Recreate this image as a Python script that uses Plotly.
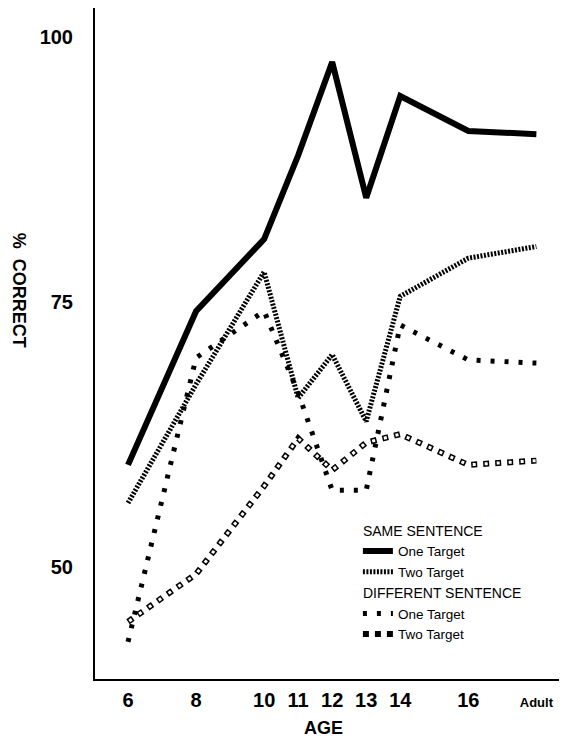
import plotly.graph_objects as go

ages = [6, 8, 10, 11, 12, 13, 14, 16, 18]
age_labels = ["6", "8", "10", "11", "12", "13", "14", "16",
              "<span style='font-size:13px'>Adult</span>"]
y_ticks = [50, 75, 100]

same_one = [59.6, 74.1, 80.9, 88.8, 97.6, 84.8, 94.4, 91.1, 90.8]
same_two = [56.0, 67.2, 77.8, 65.9, 70.0, 63.7, 75.5, 79.1, 80.2]
diff_one = [42.9, 69.7, 74.1, 66.4, 57.2, 57.2, 72.8, 69.5, 69.2]
diff_two = [44.8, 49.3, 57.6, 62.1, 59.1, 61.7, 62.5, 59.6, 60.0]

FONT = "Liberation Sans, Arial, Helvetica, sans-serif"

fig = go.Figure()

fig.add_trace(go.Scatter(
    x=ages, y=same_one, mode="lines", name="One Target",
    line=dict(color="black", width=6),
    legendgroup="same", legendgrouptitle=dict(text="SAME SENTENCE"),
))
fig.add_trace(go.Scatter(
    x=ages, y=same_two, mode="lines", name="Two Target",
    line=dict(color="black", width=5, dash="2px,1.5px"),
    legendgroup="same",
))
fig.add_trace(go.Scatter(
    x=ages, y=diff_one, mode="lines", name="One Target",
    line=dict(color="black", width=5, dash="4px,10px"),
    legendgroup="diff", legendgrouptitle=dict(text="DIFFERENT SENTENCE"),
))
fig.add_trace(go.Scatter(
    x=ages, y=diff_two, mode="lines", name="Two Target",
    line=dict(color="black", width=6, dash="6px,6px"),
    legendgroup="diff",
))
fig.add_trace(go.Scatter(
    x=ages, y=diff_two, mode="lines", name="Two Target",
    line=dict(color="white", width=3, dash="0px,1.5px,3px,7.5px"),
    legendgroup="diff", showlegend=False,
))

fig.update_layout(
    width=559, height=737,
    margin=dict(l=87, r=0, t=0, b=66),
    paper_bgcolor="white", plot_bgcolor="white",
    font=dict(family=FONT, color="black"),
    showlegend=True,
    legend=dict(
        x=0.557, y=0.245, xanchor="left", yanchor="top",
        bgcolor="rgba(0,0,0,0)", borderwidth=0,
        font=dict(size=13.5, family=FONT, color="black"),
        tracegroupgap=0,
        grouptitlefont=dict(size=14, family=FONT, color="black"),
    ),
    xaxis=dict(
        range=[5.03, 18.9], showgrid=False, zeroline=False,
        showline=True, linecolor="black", linewidth=2,
        tickmode="array", tickvals=ages, ticktext=age_labels,
        ticks="", tickfont=dict(size=20, family=FONT, weight="bold"),
        ticklabelstandoff=2,
    ),
    yaxis=dict(
        range=[39.4, 102.7], showgrid=False, zeroline=False,
        showline=True, linecolor="black", linewidth=2,
        tickmode="array", tickvals=y_ticks, ticktext=[str(v) for v in y_ticks],
        ticks="", tickfont=dict(size=20, family=FONT, weight="bold"),
        ticklabelstandoff=16,
    ),
    annotations=[
        dict(text="<b>AGE</b>", xref="paper", yref="paper", x=0.485, y=-0.073,
             xanchor="center", yanchor="middle", showarrow=False,
             font=dict(size=18, family=FONT)),
        dict(text="<b>%  CORRECT</b>", xref="paper", yref="paper", x=-0.161, y=0.58,
             xanchor="center", yanchor="middle", showarrow=False, textangle=90,
             font=dict(size=18, family=FONT)),
    ],
)

fig.write_html("out.html")
